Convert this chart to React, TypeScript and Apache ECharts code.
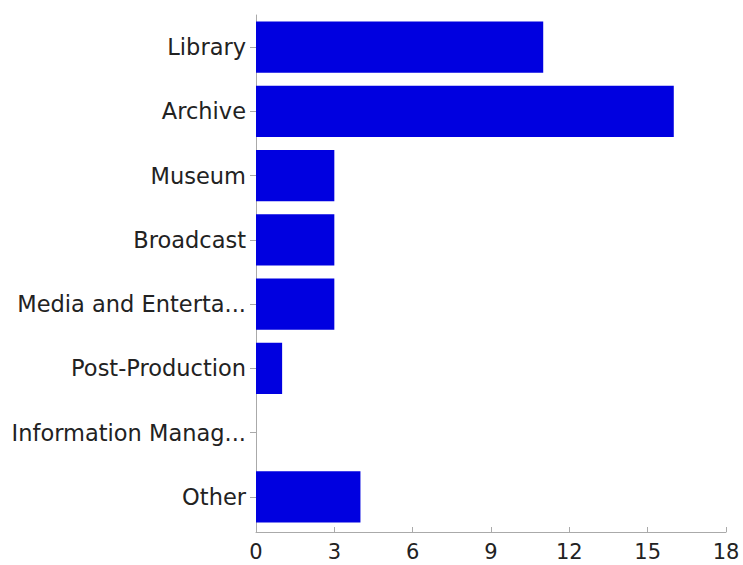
import React, { useEffect, useRef } from "react";
import * as echarts from "echarts";

const categories = [
  "Library",
  "Archive",
  "Museum",
  "Broadcast",
  "Media and Enterta...",
  "Post-Production",
  "Information Manag...",
  "Other",
];
const counts = [11, 16, 3, 3, 3, 1, 0, 4];
const xMin = 0;
const xMax = 18;
const xStep = 3;

export default function App() {
  const ref = useRef<HTMLDivElement>(null);
  useEffect(() => {
    if (!ref.current) return;
    const chart = echarts.init(ref.current, undefined, { renderer: "svg" });
    chart.setOption({
      animation: false,
      backgroundColor: "#ffffff",
      textStyle: { fontFamily: "DejaVu Sans" },
      grid: { left: 256, right: 17, top: 15, bottom: 36, containLabel: false },
      xAxis: {
        type: "value",
        min: xMin,
        max: xMax,
        interval: xStep,
        offset: 3,
        axisLine: { show: true, lineStyle: { color: "#aaaaaa", width: 1 } },
        axisTick: { show: true, inside: true, length: 5, lineStyle: { color: "#aaaaaa" } },
        splitLine: { show: false },
        axisLabel: { color: "#222222", fontSize: 21, margin: 9, fontFamily: "DejaVu Sans" },
      },
      yAxis: {
        type: "category",
        data: categories,
        inverse: true,
        axisLine: { show: true, lineStyle: { color: "#aaaaaa", width: 1 } },
        axisTick: { show: true, alignWithLabel: true, length: 6, lineStyle: { color: "#aaaaaa" } },
        axisLabel: { color: "#222222", fontSize: 22.5, margin: 10, fontFamily: "DejaVu Sans", padding: [4, 0, 0, 0] },
      },
      series: [
        {
          type: "bar",
          data: counts,
          barCategoryGap: "20%",
          itemStyle: { color: "#0000e0" },
        },
      ],
    });
    return () => chart.dispose();
  }, []);
  return (
    <div
      ref={ref}
      style={{ position: "fixed", left: 0, top: 0, width: 743, height: 565 }}
    />
  );
}
